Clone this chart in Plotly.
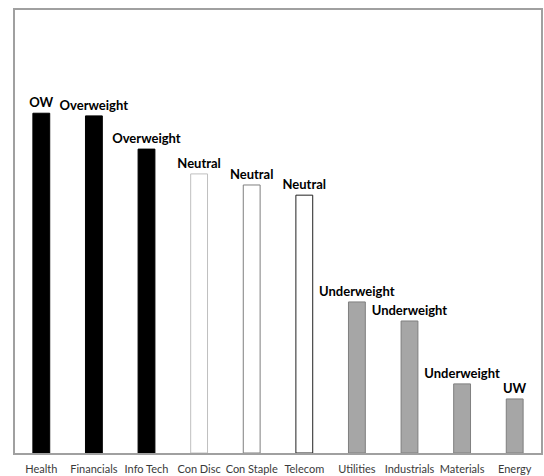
import plotly.graph_objects as go

sectors = ["Health", "Financials", "Info Tech", "Con Disc", "Con Staple", "Telecom",
           "Utilities", "Industrials", "Materials", "Energy"]
values = [76.7, 76.1, 68.6, 63.0, 60.5, 58.2, 34.1, 29.8, 15.6, 12.2]
ratings = ["OW", "Overweight", "Overweight", "Neutral", "Neutral", "Neutral",
           "Underweight", "Underweight", "Underweight", "UW"]

fill_colors = ["#000000", "#000000", "#000000", "#ffffff", "#ffffff", "#ffffff",
               "#a6a6a6", "#a6a6a6", "#a6a6a6", "#a6a6a6"]
line_colors = ["#000000", "#000000", "#000000", "#bfbfbf", "#7f7f7f", "#202020",
               "#7f7f7f", "#7f7f7f", "#7f7f7f", "#7f7f7f"]

fig = go.Figure(go.Bar(
    x=sectors, y=values, text=ratings, textposition="outside",
    constraintext="none",
    textfont=dict(family="Lato", size=13, color="#000000", weight="bold"),
    marker=dict(color=fill_colors, line=dict(color=line_colors, width=1)),
    cliponaxis=False,
))

fig.update_layout(
    width=544, height=476,
    margin=dict(l=15, r=3, t=10, b=23),
    plot_bgcolor="#ffffff", paper_bgcolor="#ffffff",
    bargap=0.68, showlegend=False,
    xaxis=dict(showline=True, linecolor="#a0a0a0", linewidth=1.5, mirror=True,
               tickfont=dict(family="Lato", size=11, color="#3a3a3a"),
               ticks="", showgrid=False, automargin=False, ticklabelstandoff=5),
    yaxis=dict(range=[0, 100], showline=True, linecolor="#a0a0a0", linewidth=1.5,
               mirror=True, showticklabels=False, showgrid=False, zeroline=False,
               ticks="", automargin=False),
)

fig.write_html(
    "out.html",
    config={"displayModeBar": False},
    post_script="document.body.style.margin='0';document.body.style.overflow='hidden';",
)
